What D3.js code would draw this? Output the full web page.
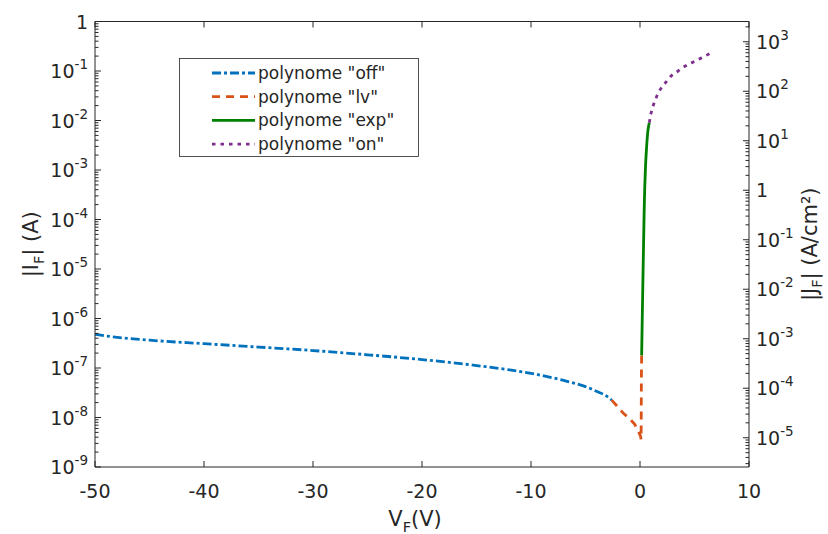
<!DOCTYPE html>
<html><head><meta charset="utf-8">
<script src="https://cdn.jsdelivr.net/npm/d3@7"></script>
<style>
html,body{margin:0;padding:0;background:#fff;}
svg{display:block;font-family:"DejaVu Sans",sans-serif;}
</style></head>
<body>
<svg id="chart" width="828" height="534"></svg>
<script>
// ---- data (V in volts, I in amperes) ----
const offV = [-50, -49, -45, -40, -35, -30, -25, -20, -15, -10, -7, -5, -4, -3, -2.6];
const offI = [4.8e-7, 4.45e-7, 3.65e-7, 3.1e-7, 2.65e-7, 2.25e-7, 1.85e-7, 1.48e-7, 1.12e-7, 7.8e-8, 5.6e-8, 4.2e-8, 3.4e-8, 2.65e-8, 2.25e-8];
const lvV = [-2.6, -2.0, -1.5, -1.0, -0.5, -0.2, 0.05, 0.1, 0.11, 0.12, 0.13, 0.15];
const lvI = [2.25e-8, 1.6e-8, 1.2e-8, 9.7e-9, 7.4e-9, 5.6e-9, 4.2e-9, 3.6e-9, 8e-9, 2.5e-8, 7e-8, 1.8e-7];
const expV = [0.15, 0.2, 0.25, 0.3, 0.35, 0.4, 0.5, 0.6, 0.7, 0.85];
const expI = [1.8e-7, 8e-7, 3.5e-6, 1.5e-5, 6e-5, 2.2e-4, 1.1e-3, 2.8e-3, 5.5e-3, 9e-3];
const onV = [0.85, 1.0, 1.2, 1.5, 1.85, 2.4, 2.85, 3.5, 4.15, 4.85, 5.6, 6.4];
const onI = [9e-3, 1.35e-2, 1.95e-2, 2.95e-2, 4.2e-2, 6e-2, 7.9e-2, 0.1, 0.126, 0.151, 0.182, 0.225];
const seriesNames = ['polynome "off"', 'polynome "lv"', 'polynome "exp"', 'polynome "on"'];
const xTicks = [-50, -40, -30, -20, -10, 0, 10];
const yExps = [-9, -8, -7, -6, -5, -4, -3, -2, -1, 0];
const y2Exps = [-5, -4, -3, -2, -1, 0, 1, 2, 3];
const deviceArea = 3.9e-4; // cm^2, J = I / area

// ---- layout ----
const L = 95, R = 749, T = 21.5, B = 467;
const ink = "#262626";
const svg = d3.select("#chart");
const x = d3.scaleLinear().domain([-50, 10]).range([L, R]);
const y = d3.scaleLog().domain([1e-9, 1]).range([B, T]);
const y2 = d3.scaleLog().domain([1e-9 / deviceArea, 1 / deviceArea]).range([B, T]);

const styles = [
  {color: "#0072BD", dash: "9,3,3,3", curve: d3.curveMonotoneX},
  {color: "#D95319", dash: "8,6", curve: d3.curveLinear},
  {color: "#008000", dash: null, curve: d3.curveMonotoneX},
  {color: "#7E2F8E", dash: "3.5,5", curve: d3.curveMonotoneX}
];
const series = [[offV, offI], [lvV, lvI], [expV, expI], [onV, onI]].map(([vs, is]) => vs.map((v, i) => [v, is[i]]));

// ---- curves ----
const plot = svg.append("g");
series.forEach((pts, k) => {
  const line = d3.line().x(d => x(d[0])).y(d => y(d[1])).curve(styles[k].curve);
  plot.append("path").attr("d", line(pts)).attr("fill", "none")
    .attr("stroke", styles[k].color).attr("stroke-width", 2.8)
    .attr("stroke-dasharray", styles[k].dash).attr("stroke-linecap", "butt");
});

// ---- axes ----
const ax = svg.append("g").attr("stroke", ink).attr("stroke-width", 1).attr("fill", "none");
ax.append("line").attr("x1", L).attr("x2", R).attr("y1", B).attr("y2", B);
ax.append("line").attr("x1", L).attr("x2", R).attr("y1", T).attr("y2", T);
ax.append("line").attr("x1", L).attr("x2", L).attr("y1", T).attr("y2", B);
ax.append("line").attr("x1", R).attr("x2", R).attr("y1", T).attr("y2", B);

// x ticks (bottom and top, inward)
xTicks.forEach(v => {
  ax.append("line").attr("x1", x(v)).attr("x2", x(v)).attr("y1", B).attr("y2", B - 6);
  ax.append("line").attr("x1", x(v)).attr("x2", x(v)).attr("y1", T).attr("y2", T + 6);
});
svg.append("g").selectAll("text").data(xTicks).join("text")
  .attr("x", d => x(d)).attr("y", B + 31).attr("text-anchor", "middle")
  .attr("font-size", 19).attr("fill", ink).text(d => d);

// log ticks helper
function logTicks(scale, xAxis, dir) {
  const [d0, d1] = scale.domain();
  const lo = Math.floor(Math.log10(d0)), hi = Math.ceil(Math.log10(d1));
  for (let e = lo; e <= hi; e++) {
    for (let m = 1; m <= 9; m++) {
      const v = m * Math.pow(10, e);
      if (v < d0 * 0.999 || v > d1 * 1.001) continue;
      const len = m === 1 ? 6 : 3.5;
      ax.append("line").attr("x1", xAxis).attr("x2", xAxis + dir * len)
        .attr("y1", scale(v)).attr("y2", scale(v));
    }
  }
}
logTicks(y, L, 1);
logTicks(y2, R, -1);

function powLabel(g, xp, yp, e, anchor) {
  const t = g.append("text").attr("x", xp).attr("y", yp + 7).attr("text-anchor", anchor)
    .attr("font-size", 19).attr("fill", ink);
  if (e === 0) { t.text("1"); return; }
  t.append("tspan").text("10");
  t.append("tspan").attr("dy", -9).attr("font-size", 13.5).text(String(e));
}
const yl = svg.append("g");
yExps.forEach(e => powLabel(yl, L - 7, y(Math.pow(10, e)), e, "end"));
const yr = svg.append("g");
y2Exps.forEach(e => powLabel(yr, R + 7, y2(Math.pow(10, e)), e, "start"));

// axis titles
const xt = svg.append("text").attr("x", 415).attr("y", 526).attr("text-anchor", "middle")
  .attr("font-size", 21).attr("fill", ink);
xt.append("tspan").text("V");
xt.append("tspan").attr("dy", 6).attr("font-size", 14.5).text("F");
xt.append("tspan").attr("dy", -6).text("(V)");

const ylab = svg.append("text").attr("transform", `translate(38,${(T + B) / 2}) rotate(-90)`)
  .attr("text-anchor", "middle").attr("font-size", 21).attr("fill", ink);
ylab.append("tspan").text("|I");
ylab.append("tspan").attr("dy", 6).attr("font-size", 14.5).text("F");
ylab.append("tspan").attr("dy", -6).text("| (A)");

const y2lab = svg.append("text").attr("transform", `translate(817,${(T + B) / 2}) rotate(-90)`)
  .attr("text-anchor", "middle").attr("font-size", 21).attr("fill", ink);
y2lab.append("tspan").text("|J");
y2lab.append("tspan").attr("dy", 5).attr("font-size", 14.5).text("F");
y2lab.append("tspan").attr("dy", -5).text("| (A/cm²)");

// ---- legend ----
const lg = svg.append("g");
lg.append("rect").attr("x", 179.5).attr("y", 58.5).attr("width", 239).attr("height", 98)
  .attr("fill", "#fff").attr("stroke", ink).attr("stroke-width", 0.8);
seriesNames.forEach((name, k) => {
  const yy = 73 + k * 23.7;
  lg.append("line").attr("x1", 212).attr("x2", 255).attr("y1", yy).attr("y2", yy)
    .attr("stroke", styles[k].color).attr("stroke-width", 2.8)
    .attr("stroke-dasharray", styles[k].dash);
  lg.append("text").attr("x", 258).attr("y", yy + 6).attr("font-size", 17)
    .attr("fill", ink).text(name);
});
</script>
</body></html>
